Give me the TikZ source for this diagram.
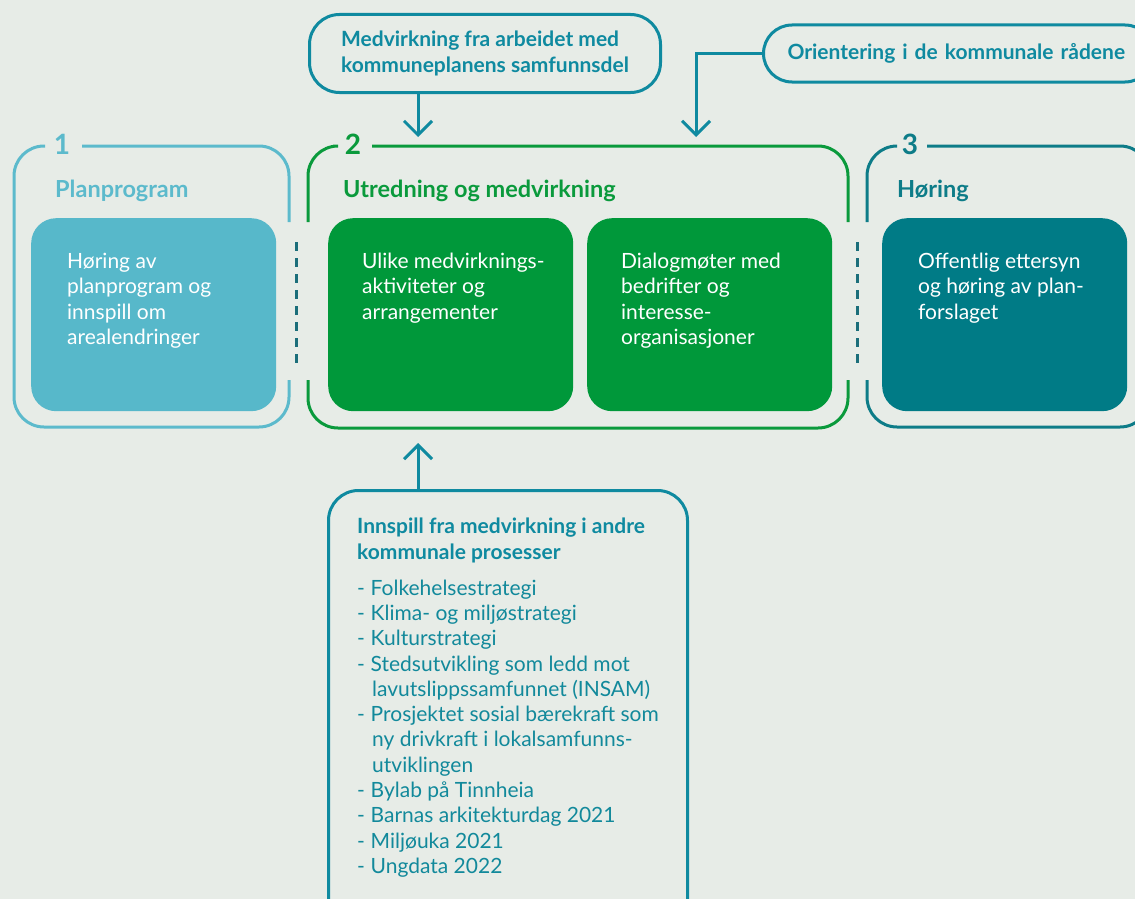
\documentclass[tikz,border=0pt]{standalone}
\usepackage{fontspec}
\setmainfont{Lato}
\usetikzlibrary{arrows.meta}
\definecolor{bg}{HTML}{E7ECE7}
\definecolor{lblue}{HTML}{57B8CA}
\definecolor{lblueline}{HTML}{5CBACC}
\definecolor{green}{HTML}{00983A}
\definecolor{greenline}{HTML}{0A9A3C}
\definecolor{teal}{HTML}{007B86}
\definecolor{tealline}{HTML}{0D7C88}
\definecolor{calt}{HTML}{0F8AA0}
\definecolor{listc}{HTML}{12899B}
\definecolor{sep}{HTML}{1B6E7A}
\begin{document}
\begin{tikzpicture}[x=1pt,y=-1pt,
  frame/.style={line width=3pt, rounded corners=30pt},
  inbox/.style={rounded corners=25pt, minimum width=245pt, minimum height=193pt, anchor=north west, inner sep=0pt},
  intext/.style={anchor=north west, inner sep=0pt, align=left, text=white, font=\fontsize{21}{25.5}\selectfont},
  ttl/.style={anchor=base west, inner sep=0pt, font=\bfseries\fontsize{23.5}{27}\selectfont},
  num/.style={anchor=base, inner sep=0pt, font=\bfseries\fontsize{28}{30}\selectfont},
  callout/.style={draw=calt, line width=3pt, text=calt, align=left, font=\bfseries\fontsize{21}{26}\selectfont},
  arr/.style={draw=calt, line width=3pt, -{Straight Barb[length=14pt,width=28pt,line width=3pt]}},
  sepline/.style={draw=sep, line width=2.5pt, dash pattern=on 9pt off 7pt}
]
\useasboundingbox (0,0) rectangle (1135,899);
\clip (0,0) rectangle (1135,899);
\fill[bg] (0,0) rectangle (1135,899);

% stage 1 frame
\draw[frame, draw=lblueline] (45,146) -- (14,146) -- (14,427) -- (289,427) -- (289,380);
\draw[frame, draw=lblueline] (289,222) -- (289,146) -- (82,146);
\node[num, text=lblueline] (n1) at (62,154) {1};
\node[ttl, text=lblueline] (t1) at (55,197) {Planprogram};
\node[inbox, fill=lblue] (b1) at (31,218) {};
\node[intext] (b1t) at (67,252.5) {Høring av\\planprogram og\\innspill om\\arealendringer};

% stage 2 frame
\draw[frame, draw=greenline] (333,146) -- (308,146) -- (308,222);
\draw[frame, draw=greenline] (308,380) -- (308,428) -- (848,428) -- (848,380);
\draw[frame, draw=greenline] (848,222) -- (848,146) -- (372,146);
\node[num, text=greenline] (n2) at (353,154) {2};
\node[ttl, text=greenline] (t2) at (343,197) {Utredning og medvirkning};
\node[inbox, fill=green] (b2a) at (328,218) {};
\node[intext] (b2at) at (362,252.5) {Ulike medvirknings-\\aktiviteter og\\arrangementer};
\node[inbox, fill=green] (b2b) at (587,218) {};
\node[intext] (b2bt) at (621,252.5) {Dialogmøter med\\bedrifter og\\interesse-\\organisasjoner};

% stage 3 frame
\draw[frame, draw=tealline] (893,146) -- (867,146) -- (867,222);
\draw[frame, draw=tealline] (867,380) -- (867,427) -- (1150,427) -- (1150,146) -- (927,146);
\node[num, text=tealline] (n3) at (910,154) {3};
\node[ttl, text=tealline] (t3) at (897,197) {Høring};
\node[inbox, fill=teal] (b3) at (882,218) {};
\node[intext] (b3t) at (918,252.5) {Offentlig ettersyn\\og høring av plan-\\forslaget};

% separators
\coordinate (s1a) at (296.5,242); \coordinate (s1b) at (296.5,366);
\coordinate (s2a) at (857.5,242); \coordinate (s2b) at (857.5,366);
\draw[sepline] (s1a) -- (s1b);
\draw[sepline] (s2a) -- (s2b);

% callout 1
\node[callout, anchor=north west, rounded corners=30pt, minimum width=351pt, minimum height=78pt, inner sep=0pt] (m1) at (308,13) {Medvirkning fra arbeidet med\\kommuneplanens samfunnsdel};
\coordinate (a1) at (418,137);
\draw[arr] (m1.south -| a1) -- (a1);

% callout 2
\node[callout, anchor=west, rounded corners=28.5pt, minimum width=390pt, minimum height=57pt, inner xsep=24pt, inner ysep=0pt, text width=342pt] (m2) at (762,53.5) {Orientering i de kommunale rådene};
\coordinate (a2) at (696,137);
\draw[arr] (m2.west) -| (a2);

% bottom callout
\node[draw=calt, line width=3pt, rounded corners=30pt, anchor=north west, minimum width=359pt, minimum height=440pt, inner sep=0pt] (c3) at (327,489) {};
\coordinate (a3) at (418,443);
\draw[arr] (c3.north -| a3) -- (a3);
\node[anchor=north west, inner sep=0pt, align=left, text=calt, font=\bfseries\fontsize{21}{26}\selectfont] (c3t) at (357,517.5) {Innspill fra medvirkning i andre\\kommunale prosesser};
\node[anchor=north west, inner sep=0pt, align=left, text=listc, font=\fontsize{21}{25.3}\selectfont] (c3l) at (357,579.5) {%
\makebox[13.5pt][l]{-}Folkehelsestrategi\\
\makebox[13.5pt][l]{-}Klima- og miljøstrategi\\
\makebox[13.5pt][l]{-}Kulturstrategi\\
\makebox[13.5pt][l]{-}Stedsutvikling som ledd mot\\
\makebox[15pt][l]{}lavutslippssamfunnet (INSAM)\\
\makebox[13.5pt][l]{-}Prosjektet sosial bærekraft som\\
\makebox[15pt][l]{}ny drivkraft i lokalsamfunns-\\
\makebox[15pt][l]{}utviklingen\\
\makebox[13.5pt][l]{-}Bylab på Tinnheia\\
\makebox[13.5pt][l]{-}Barnas arkitekturdag 2021\\
\makebox[13.5pt][l]{-}Miljøuka 2021\\
\makebox[13.5pt][l]{-}Ungdata 2022};
\end{tikzpicture}
\end{document}
